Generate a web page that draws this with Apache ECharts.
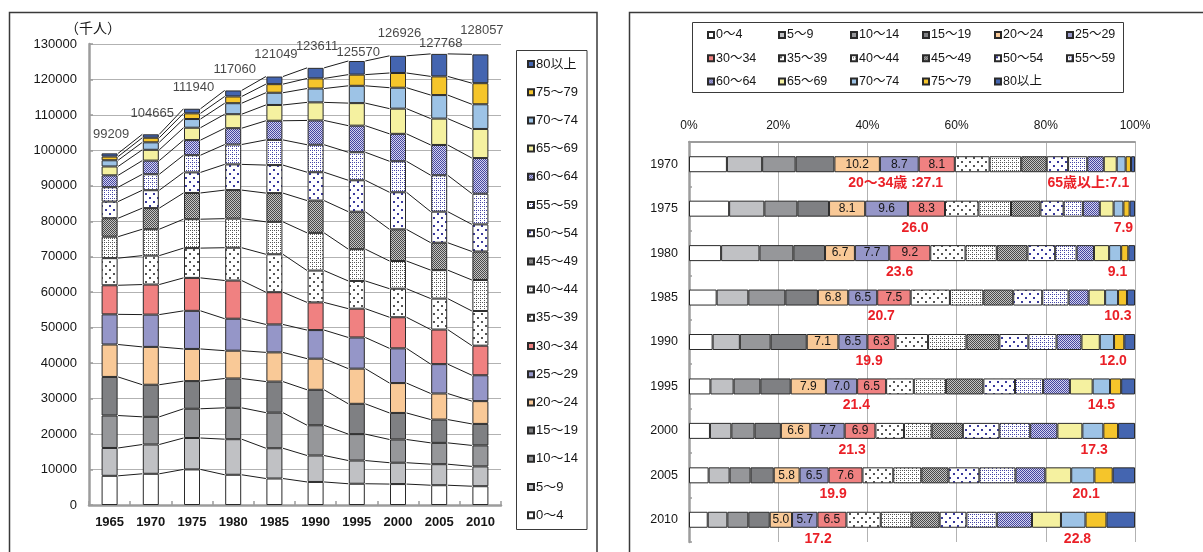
<!DOCTYPE html>
<html>
<head>
<meta charset="utf-8">
<script src="https://cdn.jsdelivr.net/npm/echarts@6/dist/echarts.min.js"></script>
<style>
  html, body { margin: 0; padding: 0; background: #ffffff; }
  #chart { width: 1203px; height: 552px; }
</style>
</head>
<body>
<div id="chart"></div>
<script>
// ---- categories ----
const years = ['1965', '1970', '1975', '1980', '1985', '1990', '1995', '2000', '2005', '2010'];
const shareYears = ['1970', '1975', '1980', '1985', '1990', '1995', '2000', '2005', '2010'];
const ageGroups = ['0～4', '5～9', '10～14', '15～19', '20～24', '25～29', '30～34', '35～39', '40～44',
  '45～49', '50～54', '55～59', '60～64', '65～69', '70～74', '75～79', '80以上'];
const yTicks = { min: 0, max: 130000, step: 10000 };
const pctTicks = { min: 0, max: 100, step: 20 };

// ---- population by age group (thousand persons), 1965 ... 2010 ----
const pop0to4   = [8230, 8800, 10030, 8525, 7465, 6497, 5995, 5904, 5578, 5296];
const pop5to9   = [7850, 8260, 8860, 10030, 8540, 7458, 6541, 6022, 5928, 5586];
const pop10to14 = [9150, 7800, 8250, 8850, 10040, 8529, 7451, 6547, 6015, 5921];
const pop15to19 = [10880, 9050, 7800, 8270, 8760, 10007, 8545, 7488, 6568, 6063];
const pop20to24 = [9150, 10676, 9067, 7843, 8231, 8776, 9920, 8422, 7350, 6426];
const pop25to29 = [8500, 9106, 10746, 9014, 7880, 8060, 8790, 9790, 8280, 7294];
const pop30to34 = [8200, 8478, 9291, 10770, 9090, 7800, 8122, 8771, 9755, 8341];
const pop35to39 = [7650, 8150, 8400, 9250, 10700, 8985, 7820, 8050, 8736, 9786];
const pop40to44 = [6050, 7450, 8150, 8200, 9150, 10630, 8966, 7810, 8022, 8741];
const pop45to49 = [5200, 5950, 7400, 8050, 8100, 9100, 10560, 8922, 7730, 8033];
const pop50to54 = [4700, 5050, 5800, 7250, 7900, 8000, 8860, 10456, 8763, 7644];
const pop55to59 = [4050, 4500, 4850, 5600, 7100, 7750, 7900, 8750, 10259, 8664];
const pop60to64 = [3350, 3850, 4250, 4600, 5400, 6850, 7500, 7733, 8545, 10037];
const pop65to69 = [2500, 3050, 3500, 3950, 4450, 5100, 6360, 7106, 7433, 8210];
const pop70to74 = [1750, 2100, 2450, 3100, 3450, 3900, 4880, 5901, 6637, 6963];
const pop75to79 = [1050, 1300, 1600, 1900, 2420, 2850, 3150, 4151, 5263, 5941];
const pop80plus = [900, 960, 1300, 1700, 2150, 2980, 3850, 4843, 6349, 8130];
// total population (incl. age unknown)
const totals = [99209, 104665, 111940, 117060, 121049, 123611, 125570, 126926, 127768, 128057];

// ---- composition by age group (%), 1970 ... 2010 ----
const share0to4   = [8.5, 9.0, 7.2, 6.2, 5.3, 4.8, 4.7, 4.4, 4.2];
const share5to9   = [7.9, 7.9, 8.6, 7.1, 6.1, 5.2, 4.8, 4.7, 4.4];
const share10to14 = [7.5, 7.4, 7.6, 8.3, 6.9, 6.0, 5.2, 4.7, 4.7];
const share15to19 = [8.7, 7.1, 7.1, 7.3, 8.1, 6.8, 5.9, 5.2, 4.8];
const share20to24 = [10.2, 8.1, 6.7, 6.8, 7.1, 7.9, 6.6, 5.8, 5.0];
const share25to29 = [8.7, 9.6, 7.7, 6.5, 6.5, 7.0, 7.7, 6.5, 5.7];
const share30to34 = [8.1, 8.3, 9.2, 7.5, 6.3, 6.5, 6.9, 7.6, 6.5];
const share35to39 = [7.8, 7.5, 7.9, 8.8, 7.3, 6.2, 6.4, 6.9, 7.7];
const share40to44 = [7.1, 7.3, 7.0, 7.5, 8.6, 7.2, 6.2, 6.3, 6.9];
const share45to49 = [5.7, 6.6, 6.9, 6.7, 7.4, 8.4, 7.0, 6.1, 6.3];
const share50to54 = [4.8, 5.2, 6.2, 6.5, 6.5, 7.1, 8.2, 6.9, 6.0];
const share55to59 = [4.3, 4.3, 4.8, 5.9, 6.3, 6.3, 6.9, 8.1, 6.8];
const share60to64 = [3.7, 3.8, 3.9, 4.5, 5.6, 6.0, 6.1, 6.7, 7.9];
const share65to69 = [2.9, 3.1, 3.4, 3.7, 4.1, 5.1, 5.6, 5.8, 6.5];
const share70to74 = [2.0, 2.2, 2.7, 2.9, 3.2, 3.9, 4.7, 5.2, 5.5];
const share75to79 = [1.2, 1.4, 1.6, 2.0, 2.3, 2.5, 3.3, 4.1, 4.7];
const share80plus = [0.9, 1.2, 1.5, 1.8, 2.4, 3.1, 3.8, 5.0, 6.4];
// group totals written under each bar (%)
const share20to34 = [27.1, 26.0, 23.6, 20.7, 19.9, 21.4, 21.3, 19.9, 17.2];
const share65plus = [7.1, 7.9, 9.1, 10.3, 12.0, 14.5, 17.3, 20.1, 22.8];

// ---- tables built from the arrays above ----
const popByAge = [pop0to4, pop5to9, pop10to14, pop15to19, pop20to24, pop25to29, pop30to34, pop35to39,
  pop40to44, pop45to49, pop50to54, pop55to59, pop60to64, pop65to69, pop70to74, pop75to79, pop80plus];
const shareByAge = [share0to4, share5to9, share10to14, share15to19, share20to24, share25to29, share30to34,
  share35to39, share40to44, share45to49, share50to54, share55to59, share60to64, share65to69, share70to74,
  share75to79, share80plus];

// ---- layout / style ----
const FONT = '"Liberation Sans", Arial, "Noto Sans CJK JP", sans-serif';
const TEXT = '#161616';
const AXIS = '#9c9c9c';
const GRID_LINE = '#b2b2b2';
const EDGE = '#2a2a2a';
const BAR_W = 16;
const totalLabelDy = [-19, -20.5, -20.3, -20.6, -21.5, -20, -7, -21.6, -8, -20.2];
const youngLabelDx = [1, 28, 22, 17, 18, 18, 24, 15, 10];
const oldLabelDx = [-31, 6, 3, 6, 5, -1, -2, -4, -6];

// small repeating fills for the dotted / checked age bands
function pattern(bg, fg, size, dots) {
  const c = document.createElement('canvas');
  c.width = size; c.height = size;
  const g = c.getContext('2d');
  g.fillStyle = bg; g.fillRect(0, 0, size, size);
  g.fillStyle = fg;
  dots.forEach(d => g.fillRect(d[0], d[1], d[2] || 1, d[3] || d[2] || 1));
  return { image: c, repeat: 'repeat' };
}
const fills = [
  '#ffffff',
  '#c0c1c4',
  '#96979a',
  '#7f8083',
  '#f9c997',
  '#9596c8',
  '#f08181',
  pattern('#ffffff', '#555555', 8, [[1, 1, 2], [5, 5, 2]]),
  pattern('#ffffff', '#555555', 4, [[0, 0], [2, 2], [0, 2]]),
  pattern('#c4c4c4', '#4a4a4a', 2, [[0, 0], [1, 1]]),
  pattern('#ffffff', '#3a3a9c', 8, [[1, 1, 2], [5, 5, 2]]),
  pattern('#ffffff', '#4646a6', 4, [[0, 0], [2, 2], [0, 2]]),
  pattern('#d4d4ee', '#4646a0', 2, [[0, 0], [1, 1]]),
  '#f5f1a0',
  '#9dc3e6',
  '#f5c52b',
  '#4465b0'
];

// cumulative top of every band, per year (for the joining lines)
const cumTops = years.map((_, i) => {
  let s = 0;
  return popByAge.map(arr => (s += arr[i]));
});

const chart = echarts.init(document.getElementById('chart'), null, { renderer: 'canvas' });

const series = [];
ageGroups.forEach((name, k) => {
  series.push({
    name, type: 'bar', stack: 'pop', xAxisIndex: 0, yAxisIndex: 0,
    barWidth: BAR_W, data: popByAge[k], silent: true,
    itemStyle: { color: fills[k], borderColor: EDGE, borderWidth: 1 }
  });
});
ageGroups.forEach((name, k) => {
  const labelled = k >= 4 && k <= 6;
  series.push({
    name, type: 'bar', stack: 'share', xAxisIndex: 1, yAxisIndex: 1,
    barWidth: BAR_W, data: shareByAge[k], silent: true,
    itemStyle: { color: fills[k], borderColor: EDGE, borderWidth: 1 },
    label: labelled ? {
      show: true, position: 'inside', color: TEXT, fontFamily: FONT, fontSize: 12,
      formatter: p => p.value.toFixed(1)
    } : { show: false }
  });
});

// lines joining band tops of neighbouring years
series.push({
  type: 'custom', xAxisIndex: 0, yAxisIndex: 0, silent: true, z: 1,
  data: years.slice(0, -1).map((_, i) => [i, 0]),
  encode: { x: 0, y: 1 },
  renderItem(params, api) {
    const i = api.value(0);
    const half = BAR_W / 2 + 0.5;
    const children = cumTops[i].map((c, k) => {
      const a = api.coord([i, c]);
      const b = api.coord([i + 1, cumTops[i + 1][k]]);
      return {
        type: 'line',
        shape: { x1: a[0] + half, y1: a[1], x2: b[0] - half, y2: b[1] },
        style: { stroke: '#1c1c1c', lineWidth: 1 }
      };
    });
    return { type: 'group', children };
  }
});

// totals above the stacked columns
series.push({
  type: 'scatter', xAxisIndex: 0, yAxisIndex: 0, silent: true, symbolSize: 0,
  data: totals.map((v, i) => ({
    value: v,
    label: { offset: [1.5, totalLabelDy[i]] }
  })),
  label: {
    show: true, position: 'inside', color: TEXT, fontFamily: FONT, fontSize: 13,
    formatter: p => String(p.value)
  }
});

// red group totals under each 100% bar
series.push({
  type: 'custom', xAxisIndex: 1, yAxisIndex: 1, silent: true, z: 5,
  data: shareYears.map((_, i) => [50, i]),
  encode: { x: 0, y: 1 },
  renderItem(params, api) {
    const i = api.value(1);
    const col = shareByAge.map(a => a[i]);
    const before = col.slice(0, 4).reduce((s, v) => s + v, 0);
    const young = col.slice(4, 7).reduce((s, v) => s + v, 0);
    const old = col.slice(13).reduce((s, v) => s + v, 0);
    const full = col.reduce((s, v) => s + v, 0);
    const pY = api.coord([before + young / 2, i]);
    const pO = api.coord([full - old / 2, i]);
    const st = (text) => ({
      text, fill: '#ea2027', fontFamily: FONT, fontSize: 14, fontWeight: 'bold',
      align: 'center', verticalAlign: 'middle'
    });
    const yTxt = (i === 0 ? '20～34歳 :' : '') + share20to34[i].toFixed(1);
    const oTxt = (i === 0 ? '65歳以上:' : '') + share65plus[i].toFixed(1);
    return {
      type: 'group',
      children: [
        { type: 'text', x: pY[0] + youngLabelDx[i], y: pY[1] + 19, style: st(yTxt) },
        { type: 'text', x: pO[0] + oldLabelDx[i], y: pO[1] + 19, style: st(oTxt) }
      ]
    };
  }
});

const legendText = { fontFamily: FONT, fontSize: 13, color: TEXT, lineHeight: 16, padding: [0, 0, 0, -3] };
const legends = [{
  orient: 'vertical', left: 527, top: 56, padding: 0, itemGap: 12.2,
  itemWidth: 6, itemHeight: 6, icon: 'rect', selectedMode: false,
  data: ageGroups.slice().reverse(), textStyle: legendText
}];
const legendCols = [[0, 6, 12], [1, 7, 13], [2, 8, 14], [3, 9, 15], [4, 10, 16], [5, 11]];
const legendColX = [707, 778, 850, 922, 994, 1066];
legendCols.forEach((col, c) => {
  legends.push({
    orient: 'vertical', left: legendColX[c], top: 27, padding: 0, itemGap: 7.3,
    itemWidth: 6, itemHeight: 6, icon: 'rect', selectedMode: false,
    data: col.map(k => ageGroups[k]),
    textStyle: Object.assign({}, legendText, { fontSize: 12.5 })
  });
});

const option = {
  animation: false,
  backgroundColor: '#ffffff',
  textStyle: { fontFamily: FONT },
  grid: [
    { left: 89, top: 44, width: 412, height: 461 },
    { left: 689, top: 142, width: 446, height: 400 }
  ],
  xAxis: [
    {
      type: 'category', gridIndex: 0, data: years,
      axisLine: { lineStyle: { color: AXIS, width: 2.5 } },
      axisTick: { show: true, inside: true, length: 4, lineStyle: { color: AXIS, width: 1.5 } },
      axisLabel: { color: TEXT, fontFamily: FONT, fontSize: 13, fontWeight: 'bold', margin: 11 }
    },
    {
      type: 'value', gridIndex: 1, position: 'top',
      min: pctTicks.min, max: pctTicks.max, interval: pctTicks.step,
      axisLine: { show: true, lineStyle: { color: AXIS, width: 2 } },
      axisTick: { show: false },
      splitLine: { show: true, lineStyle: { color: GRID_LINE, width: 1 } },
      axisLabel: { color: TEXT, fontFamily: FONT, fontSize: 12, margin: 10, formatter: '{value}%' }
    }
  ],
  yAxis: [
    {
      type: 'value', gridIndex: 0, min: yTicks.min, max: yTicks.max, interval: yTicks.step,
      axisLine: { show: true, lineStyle: { color: AXIS, width: 2.5 } },
      axisTick: { show: true, inside: true, length: 4, lineStyle: { color: AXIS, width: 1.5 } },
      splitLine: { show: true, lineStyle: { color: GRID_LINE, width: 1 } },
      axisLabel: { color: TEXT, fontFamily: FONT, fontSize: 13, margin: 12, formatter: v => String(v) }
    },
    {
      type: 'category', gridIndex: 1, data: shareYears, inverse: true,
      axisLine: { show: true, lineStyle: { color: AXIS, width: 2.5 } },
      axisTick: { show: true, inside: true, length: 3, lineStyle: { color: AXIS, width: 1.5 } },
      axisLabel: { color: TEXT, fontFamily: FONT, fontSize: 12.5, margin: 11 }
    }
  ],
  legend: legends,
  graphic: [
    // panel frames
    { type: 'rect', silent: true, z: 0, shape: { x: 9.5, y: 12.5, width: 587.5, height: 560 },
      style: { fill: null, stroke: '#3a3a3a', lineWidth: 1.5 } },
    { type: 'rect', silent: true, z: 0, shape: { x: 629.5, y: 12.5, width: 600, height: 560 },
      style: { fill: null, stroke: '#3a3a3a', lineWidth: 1.5 } },
    // legend boxes
    { type: 'rect', silent: true, z: 0, shape: { x: 516.5, y: 50.5, width: 70.5, height: 479 },
      style: { fill: null, stroke: '#3a3a3a', lineWidth: 1 } },
    { type: 'rect', silent: true, z: 0, shape: { x: 692.5, y: 22.5, width: 431, height: 70 },
      style: { fill: null, stroke: '#3a3a3a', lineWidth: 1 } },
    // unit
    { type: 'text', silent: true, left: 65, top: 22,
      style: { text: '（千人）', fill: TEXT, fontFamily: FONT, fontSize: 14 } }
  ],
  series
};

chart.setOption(option);
</script>
</body>
</html>
